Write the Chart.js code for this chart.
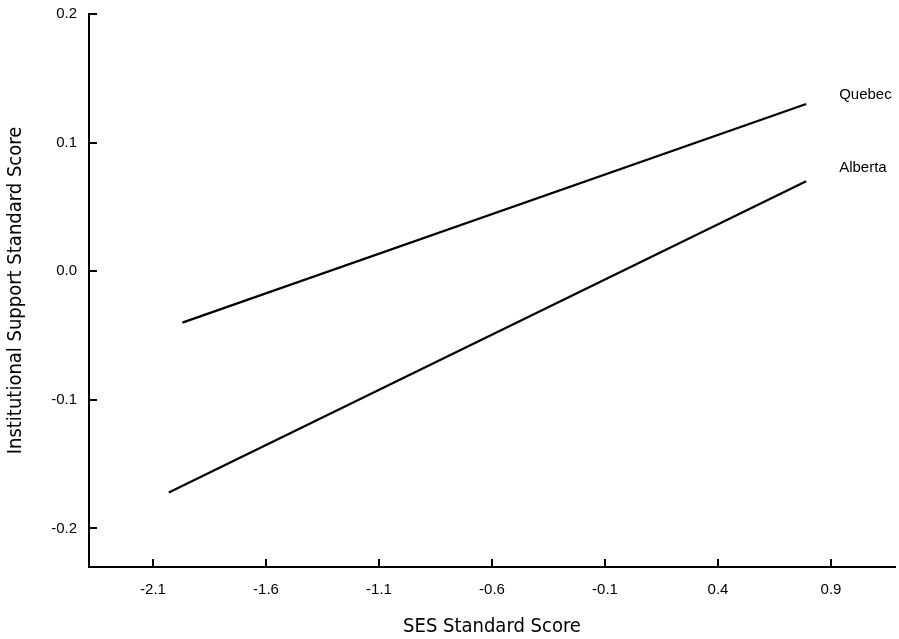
<!DOCTYPE html>
<html>
<head>
<meta charset="utf-8">
<script src="https://cdn.jsdelivr.net/npm/chart.js@4"></script>
<style>
  html, body { margin: 0; padding: 0; background: #fff; }
  canvas { display: block; }
</style>
</head>
<body>
<canvas id="chart" width="899" height="639"></canvas>
<script>
// values
const groups = ['Quebec', 'Alberta'];
const sesQuebec = [-1.97, 0.79];
const supportQuebec = [-0.040, 0.130];
const sesAlberta = [-2.03, 0.79];
const supportAlberta = [-0.172, 0.070];

const xTicks = [-2.1, -1.6, -1.1, -0.6, -0.1, 0.4, 0.9];
const yTicks = [-0.2, -0.1, 0.0, 0.1, 0.2];

const tickFont = { family: "'Liberation Sans', Arial, sans-serif", size: 15 };
const titleFont = { family: "'Liberation Sans Narrow', 'Arial Narrow', 'DejaVu Sans Condensed', sans-serif", size: 20 };

function toPoints(xs, ys) {
    return xs.map((x, i) => ({ x: x, y: ys[i] }));
}

// inward tick marks + end labels
const decorations = {
    id: 'decorations',
    afterDraw(chart) {
        const c = chart.ctx;
        const xs = chart.scales.x, ys = chart.scales.y;
        const area = chart.chartArea;
        c.save();
        c.strokeStyle = '#000';
        c.lineWidth = 2;
        xTicks.forEach(v => {
            const px = Math.round(xs.getPixelForValue(v));
            c.beginPath();
            c.moveTo(px, area.bottom);
            c.lineTo(px, area.bottom - 8);
            c.stroke();
        });
        yTicks.forEach(v => {
            const py = Math.round(ys.getPixelForValue(v));
            c.beginPath();
            c.moveTo(area.left, py);
            c.lineTo(area.left + 8, py);
            c.stroke();
        });

        // series names to the right of each line end
        const offsets = [-9, -13];
        c.fillStyle = '#000';
        c.font = '15px ' + tickFont.family;
        c.textAlign = 'left';
        c.textBaseline = 'middle';
        chart.data.datasets.forEach((ds, i) => {
            const last = ds.data[ds.data.length - 1];
            const px = xs.getPixelForValue(last.x);
            const py = ys.getPixelForValue(last.y);
            c.fillText(ds.label, px + 33, py + offsets[i]);
        });
        c.restore();
    }
};

const config = {
    type: 'scatter',
    data: {
        datasets: [
            {
                label: groups[0],
                data: toPoints(sesQuebec, supportQuebec),
                showLine: true,
                borderColor: '#000',
                borderWidth: 2.2,
                pointRadius: 0,
            },
            {
                label: groups[1],
                data: toPoints(sesAlberta, supportAlberta),
                showLine: true,
                borderColor: '#000',
                borderWidth: 2.2,
                pointRadius: 0,
            },
        ]
    },
    options: {
        responsive: false,
        animation: false,
        layout: { padding: { top: 14, right: 4, left: 0, bottom: 0 } },
        plugins: {
            legend: { display: false },
            tooltip: { enabled: false },
        },
        scales: {
            x: {
                type: 'linear',
                min: -2.383,
                max: 1.183,
                afterBuildTicks: s => { s.ticks = xTicks.map(v => ({ value: v })); },
                afterFit: s => { s.height = 72; s.paddingLeft = 0; s.paddingRight = 0; },
                grid: { display: false, drawTicks: false },
                border: { display: true, color: '#000', width: 2 },
                ticks: {
                    color: '#000',
                    font: tickFont,
                    padding: 14,
                    maxRotation: 0,
                    autoSkip: false,
                    callback: v => Number(v).toFixed(1),
                },
                title: {
                    display: true,
                    text: 'SES Standard Score',
                    color: '#000',
                    font: titleFont,
                    padding: { top: 0, bottom: 0 },
                },
            },
            y: {
                type: 'linear',
                min: -0.23,
                max: 0.2,
                afterBuildTicks: s => { s.ticks = yTicks.map(v => ({ value: v })); },
                afterFit: s => { s.width = 89; s.paddingTop = 0; s.paddingBottom = 0; },
                grid: { display: false, drawTicks: false },
                border: { display: true, color: '#000', width: 2 },
                ticks: {
                    color: '#000',
                    font: tickFont,
                    padding: 12,
                    autoSkip: false,
                    callback: v => Number(v).toFixed(1),
                },
                title: {
                    display: true,
                    text: 'Institutional Support Standard Score',
                    color: '#000',
                    font: titleFont,
                    padding: { top: 4, bottom: 0 },
                },
            },
        }
    },
    plugins: [decorations],
};

new Chart(document.getElementById('chart'), config);
</script>
</body>
</html>
